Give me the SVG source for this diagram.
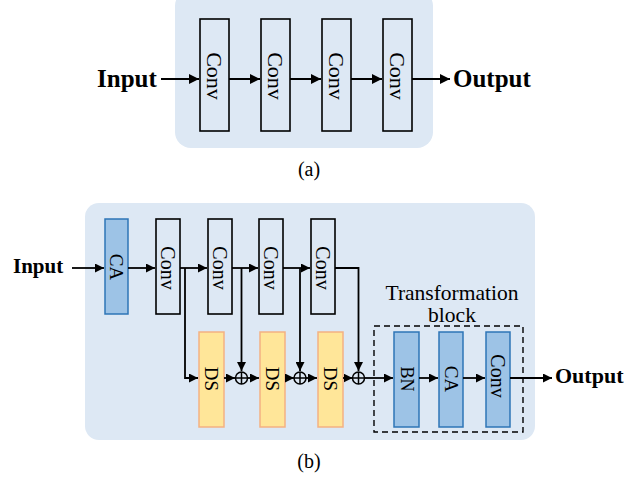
<svg xmlns="http://www.w3.org/2000/svg" width="638" height="478" viewBox="0 0 638 478">
<style>
.bg{fill:#dde8f4;}
.conv{fill:#dde8f4;stroke:#000;stroke-width:1.6;}
.blue{fill:#9dc3e6;stroke:#2e75b6;stroke-width:1.5;}
.ds{fill:#ffe699;stroke:#f4b183;stroke-width:1.5;}
.lbl{font-family:"Liberation Serif","Times New Roman",serif;fill:#000;text-anchor:middle;dominant-baseline:central;}
.big{font-family:"Liberation Serif","Times New Roman",serif;font-weight:bold;fill:#000;}
.cap{font-family:"Liberation Serif","Times New Roman",serif;fill:#000;text-anchor:middle;}
.ln{fill:none;stroke:#000;stroke-width:2;}
.ln2{fill:none;stroke:#000;stroke-width:1.8;}
.sum{fill:none;stroke:#000;stroke-width:1.5;}
</style>
<defs>
<marker id="ah" viewBox="0 0 10 10" refX="10" refY="5" markerWidth="5" markerHeight="5" orient="auto" markerUnits="strokeWidth">
<path d="M0,0 L10,5 L0,10 z" fill="#000"/>
</marker>
</defs>

<!-- Panel (a) -->
<rect class="bg" x="175" y="-10" width="258" height="158" rx="16"/>
<g id="a-conv1"><rect class="conv" x="200" y="19" width="29" height="112"/><text class="lbl" font-size="22" transform="translate(214.5,76) rotate(90)">Conv</text></g>
<g id="a-conv2"><rect class="conv" x="261" y="19" width="29" height="112"/><text class="lbl" font-size="22" transform="translate(275.5,76) rotate(90)">Conv</text></g>
<g id="a-conv3"><rect class="conv" x="322" y="19" width="29" height="112"/><text class="lbl" font-size="22" transform="translate(336.5,76) rotate(90)">Conv</text></g>
<g id="a-conv4"><rect class="conv" x="383" y="19" width="29" height="112"/><text class="lbl" font-size="22" transform="translate(397.5,76) rotate(90)">Conv</text></g>
<g id="a-input"><text class="big" x="97" y="87" font-size="25">Input</text></g>
<g id="a-output"><text class="big" x="453" y="87" font-size="25">Output</text></g>
<g id="a-connectors">
<line class="ln" x1="161" y1="79" x2="199" y2="79" marker-end="url(#ah)"/>
<line class="ln" x1="229" y1="79" x2="260" y2="79" marker-end="url(#ah)"/>
<line class="ln" x1="290" y1="79" x2="321" y2="79" marker-end="url(#ah)"/>
<line class="ln" x1="351" y1="79" x2="382" y2="79" marker-end="url(#ah)"/>
<line class="ln" x1="412" y1="79" x2="450" y2="79" marker-end="url(#ah)"/>
</g>
<text class="cap" x="309" y="176" font-size="20">(a)</text>

<!-- Panel (b) -->
<rect class="bg" x="85" y="203" width="450" height="237" rx="14"/>
<g id="b-ca1"><rect class="blue" x="105" y="219" width="23" height="95"/><text class="lbl" font-size="19" transform="translate(116.5,267) rotate(90)">CA</text></g>
<g id="b-conv1"><rect class="conv" x="156" y="219" width="24" height="95"/><text class="lbl" font-size="20" transform="translate(168,268) rotate(90)">Conv</text></g>
<g id="b-conv2"><rect class="conv" x="208" y="219" width="24" height="95"/><text class="lbl" font-size="20" transform="translate(220,268) rotate(90)">Conv</text></g>
<g id="b-conv3"><rect class="conv" x="259" y="219" width="24" height="95"/><text class="lbl" font-size="20" transform="translate(271,268) rotate(90)">Conv</text></g>
<g id="b-conv4"><rect class="conv" x="311" y="219" width="24" height="95"/><text class="lbl" font-size="20" transform="translate(323,268) rotate(90)">Conv</text></g>
<g id="b-ds1"><rect class="ds" x="199" y="332" width="25" height="95"/><text class="lbl" font-size="19" transform="translate(211.5,379) rotate(90)">DS</text></g>
<g id="b-ds2"><rect class="ds" x="260" y="332" width="25" height="95"/><text class="lbl" font-size="19" transform="translate(272.5,379) rotate(90)">DS</text></g>
<g id="b-ds3"><rect class="ds" x="318" y="332" width="25" height="95"/><text class="lbl" font-size="19" transform="translate(330.5,379) rotate(90)">DS</text></g>
<g id="b-sum1"><circle class="sum" cx="241.5" cy="378" r="6"/><path class="sum" d="M235.5,378 H247.5 M241.5,372 V384"/></g>
<g id="b-sum2"><circle class="sum" cx="300" cy="378" r="6"/><path class="sum" d="M294,378 H306 M300,372 V384"/></g>
<g id="b-sum3"><circle class="sum" cx="358.5" cy="378" r="6"/><path class="sum" d="M352.5,378 H364.5 M358.5,372 V384"/></g>
<g id="b-transform">
<rect x="374" y="326" width="149" height="106" fill="none" stroke="#000" stroke-width="1.4" stroke-dasharray="6,4"/>
<text class="cap" x="452" y="300" font-size="21.5">Transformation</text>
<text class="cap" x="452" y="322" font-size="21.5">block</text>
</g>
<g id="b-bn"><rect class="blue" x="394" y="332" width="25" height="95"/><text class="lbl" font-size="18" transform="translate(406.5,379) rotate(90)">BN</text></g>
<g id="b-ca2"><rect class="blue" x="439" y="332" width="24" height="95"/><text class="lbl" font-size="19" transform="translate(451,379) rotate(90)">CA</text></g>
<g id="b-conv5"><rect class="blue" x="486" y="332" width="24" height="95"/><text class="lbl" font-size="20" transform="translate(498,376) rotate(90)">Conv</text></g>
<g id="b-input"><text class="big" x="13" y="273" font-size="21">Input</text></g>
<g id="b-output"><text class="big" x="555" y="383" font-size="22">Output</text></g>
<g id="b-connectors">
<line class="ln2" x1="72" y1="268" x2="104" y2="268" marker-end="url(#ah)"/>
<line class="ln2" x1="128" y1="268" x2="155" y2="268" marker-end="url(#ah)"/>
<line class="ln2" x1="180" y1="268" x2="207" y2="268" marker-end="url(#ah)"/>
<line class="ln2" x1="232" y1="268" x2="258" y2="268" marker-end="url(#ah)"/>
<line class="ln2" x1="283" y1="268" x2="310" y2="268" marker-end="url(#ah)"/>
<path class="ln2" d="M185,268 V378 H198" marker-end="url(#ah)"/>
<path class="ln2" d="M241.5,268 V371" marker-end="url(#ah)"/>
<path class="ln2" d="M300,268 V371" marker-end="url(#ah)"/>
<path class="ln2" d="M335,268 H358.5 V371" marker-end="url(#ah)"/>
<line class="ln2" x1="224" y1="378" x2="235" y2="378" marker-end="url(#ah)"/>
<line class="ln2" x1="247.5" y1="378" x2="259" y2="378" marker-end="url(#ah)"/>
<line class="ln2" x1="285" y1="378" x2="294" y2="378" marker-end="url(#ah)"/>
<line class="ln2" x1="306" y1="378" x2="317" y2="378" marker-end="url(#ah)"/>
<line class="ln2" x1="343" y1="378" x2="352.5" y2="378" marker-end="url(#ah)"/>
<line class="ln2" x1="364.5" y1="378" x2="393" y2="378" marker-end="url(#ah)"/>
<line class="ln2" x1="419" y1="378" x2="438" y2="378" marker-end="url(#ah)"/>
<line class="ln2" x1="463" y1="378" x2="485" y2="378" marker-end="url(#ah)"/>
<line class="ln2" x1="510" y1="378" x2="552" y2="378" marker-end="url(#ah)"/>
</g>
<text class="cap" x="309" y="468" font-size="20">(b)</text>
</svg>
